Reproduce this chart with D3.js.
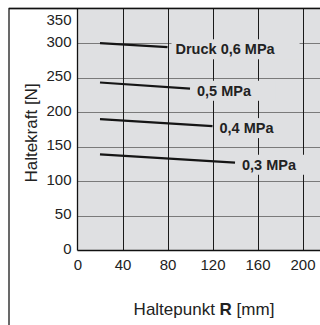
<!DOCTYPE html>
<html>
<head>
<meta charset="utf-8">
<script src="https://cdn.jsdelivr.net/npm/d3@7"></script>
<style>
  html, body { margin: 0; padding: 0; background: #fff; }
  svg { display: block; font-family: "Liberation Sans", Arial, Helvetica, sans-serif; }
</style>
</head>
<body>
<svg id="chart" width="320" height="325"></svg>
<script>
// Holding force vs. holding point, one line per supply pressure
const pressures = ["Druck 0,6 MPa", "0,5 MPa", "0,4 MPa", "0,3 MPa"];
const startR = [20, 20, 20, 20];
const endR = [80, 100, 120, 140];
const startForce = [300, 243, 190, 139];
const endForce = [294, 234, 180, 127];

const xTicks = [0, 40, 80, 120, 160, 200];
const yTicks = [0, 50, 100, 150, 200, 250, 300, 350];

const svg = d3.select("#chart");
const plotLeft = 77.5, plotTop = 8.5, plotBottom = 250.5;

const x = d3.scaleLinear().domain([0, 220]).range([plotLeft, plotLeft + 247.5]);
const y = d3.scaleLinear().domain([0, 350]).range([plotBottom, plotTop]);

// outer frame
svg.append("rect")
  .attr("x", 9).attr("y", plotTop).attr("width", 340).attr("height", 340)
  .attr("fill", "#fff").attr("stroke", "#1a1a1a").attr("stroke-width", 1.3);

// plot background
svg.append("rect")
  .attr("x", plotLeft).attr("y", plotTop)
  .attr("width", x(220) - plotLeft).attr("height", plotBottom - plotTop)
  .attr("fill", "#dfe0e2");

// horizontal grid
svg.append("g")
  .selectAll("line")
  .data(yTicks.filter(v => v > 0 && v < 350))
  .join("line")
  .attr("x1", plotLeft).attr("x2", x(220))
  .attr("y1", d => Math.round(y(d)) + 0.5).attr("y2", d => Math.round(y(d)) + 0.5)
  .attr("stroke", "#7a7a7a").attr("stroke-width", 1);

// vertical grid
svg.append("g")
  .selectAll("line")
  .data(xTicks.filter(v => v > 0))
  .join("line")
  .attr("x1", d => Math.round(x(d)) + 0.5).attr("x2", d => Math.round(x(d)) + 0.5)
  .attr("y1", plotTop).attr("y2", plotBottom)
  .attr("stroke", "#1a1a1a").attr("stroke-width", 1);

// axes
const xAxis = svg.append("g")
  .attr("transform", `translate(0,${plotBottom})`)
  .call(d3.axisBottom(x).tickValues(xTicks).tickSize(0).tickPadding(9));
xAxis.select(".domain").remove();
xAxis.selectAll("text").attr("font-size", 15).attr("fill", "#222")
  .attr("font-family", "Liberation Sans, Arial, sans-serif");

const yAxis = svg.append("g")
  .attr("transform", `translate(${plotLeft},0)`)
  .call(d3.axisLeft(y).tickValues(yTicks).tickSize(0).tickPadding(6));
yAxis.select(".domain").remove();
yAxis.selectAll("text").attr("font-size", 15).attr("fill", "#222")
  .attr("font-family", "Liberation Sans, Arial, sans-serif")
  .attr("dy", "0.2em");
// keep the topmost label inside the frame
yAxis.selectAll(".tick").filter(d => d === 350)
  .select("text").attr("dy", "1.05em");

// axis lines
svg.append("line").attr("x1", plotLeft).attr("x2", plotLeft).attr("y1", plotTop).attr("y2", plotBottom)
  .attr("stroke", "#111").attr("stroke-width", 1.3);
svg.append("line").attr("x1", plotLeft).attr("x2", x(220)).attr("y1", plotBottom).attr("y2", plotBottom)
  .attr("stroke", "#111").attr("stroke-width", 1.3);
svg.append("line").attr("x1", 9).attr("x2", 330).attr("y1", plotTop).attr("y2", plotTop)
  .attr("stroke", "#111").attr("stroke-width", 1.3);

// pressure lines
const series = pressures.map((p, i) => ({
  label: p,
  pts: [[startR[i], startForce[i]], [endR[i], endForce[i]]]
}));

const line = d3.line().x(d => x(d[0])).y(d => y(d[1]));
svg.append("g")
  .selectAll("path")
  .data(series)
  .join("path")
  .attr("d", d => line(d.pts))
  .attr("fill", "none").attr("stroke", "#151515").attr("stroke-width", 2.2);

// labels with background boxes
const labelG = svg.append("g");
series.forEach((s, i) => {
  const end = s.pts[1];
  const lx = x(end[0]) + (i === 0 ? 8 : 7);
  const ly = y(end[1]) + 2;
  const g = labelG.append("g");
  const bg = g.append("rect").attr("fill", "#dfe0e2");
  const t = g.append("text")
    .attr("x", lx).attr("y", ly)
    .attr("dy", "0.35em")
    .attr("font-size", 14.5).attr("font-weight", "bold").attr("fill", "#222")
    .text(s.label);
  const bb = t.node().getBBox();
  bg.attr("x", bb.x - 4).attr("y", bb.y - 2)
    .attr("width", bb.width + 28).attr("height", bb.height + 4);
});

// axis titles
svg.append("text")
  .attr("transform", "translate(37,133) rotate(-90)")
  .attr("text-anchor", "middle")
  .attr("font-size", 17).attr("fill", "#222")
  .text("Haltekraft [N]");

const xt = svg.append("text")
  .attr("x", 204).attr("y", 315)
  .attr("text-anchor", "middle")
  .attr("font-size", 17).attr("fill", "#222");
xt.append("tspan").text("Haltepunkt ");
xt.append("tspan").attr("font-weight", "bold").text("R");
xt.append("tspan").text(" [mm]");
</script>
</body>
</html>
